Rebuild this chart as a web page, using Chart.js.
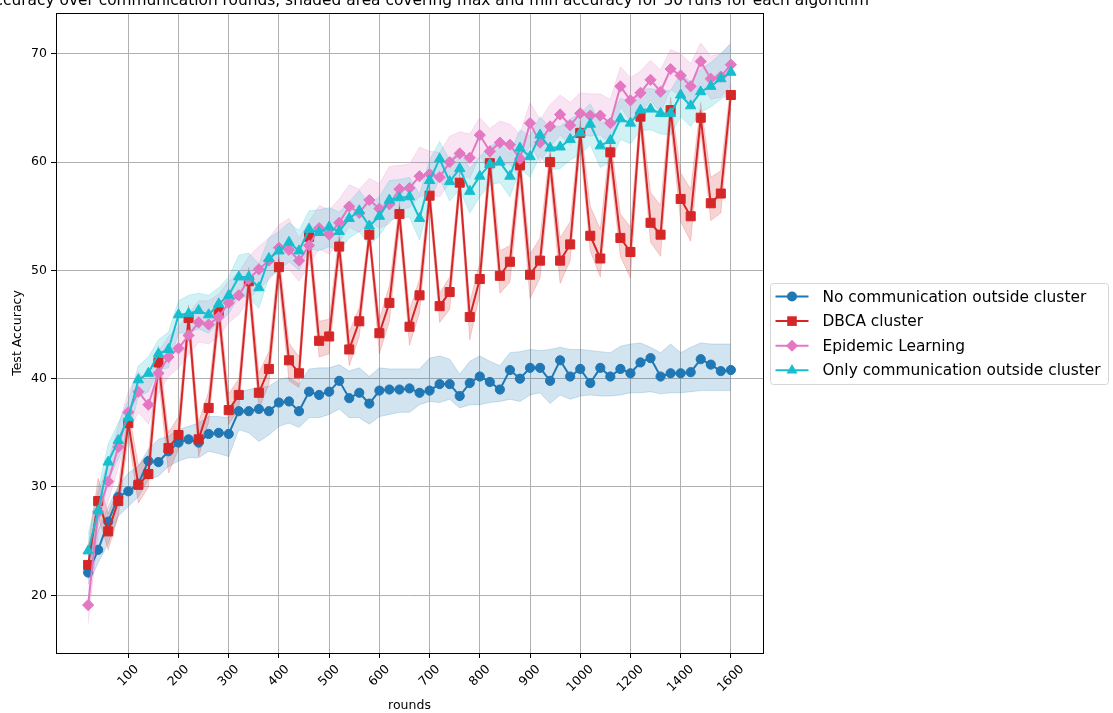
<!DOCTYPE html>
<html>
<head>
<meta charset="utf-8">
<script src="https://cdn.jsdelivr.net/npm/chart.js@4.4.1/dist/chart.umd.min.js"></script>
<style>
  html, body { margin: 0; padding: 0; background: #fff; }
  #chart { display: block; }
</style>
</head>
<body>
<canvas id="chart" width="1113" height="713"></canvas>
<script>
// communication rounds (x categories), step changes after 1000
const rounds = [20, 40, 60, 80, 100, 120, 140, 160, 180, 200, 220, 240, 260, 280, 300, 320, 340, 360, 380, 400,
  420, 440, 460, 480, 500, 520, 540, 560, 580, 600, 620, 640, 660, 680, 700, 720, 740, 760, 780, 800,
  820, 840, 860, 880, 900, 920, 940, 960, 980, 1000, 1040, 1080, 1120, 1160, 1200, 1240, 1280, 1320, 1360, 1400,
  1440, 1480, 1520, 1560, 1600];
const xTickRounds = [100, 200, 300, 400, 500, 600, 700, 800, 900, 1000, 1200, 1400, 1600];
const yTickValues = [20, 30, 40, 50, 60, 70];

// No communication outside cluster
const noCommMean = [22.1, 24.2, 26.8, 29.1, 29.6, 30.3, 32.4, 32.3, 33.3, 34.1, 34.4, 34.1, 34.9, 35.0, 34.9, 37.0, 37.0, 37.2, 37.0, 37.8,
  37.9, 37.0, 38.8, 38.5, 38.8, 39.8, 38.2, 38.7, 37.7, 38.9, 39.0, 39.0, 39.1, 38.7, 38.9, 39.5, 39.5, 38.4, 39.6, 40.2,
  39.7, 39.0, 40.8, 40.0, 41.0, 41.0, 39.8, 41.7, 40.2, 40.9, 39.6, 41.0, 40.2, 40.9, 40.5, 41.5, 41.9, 40.2, 40.5, 40.5,
  40.6, 41.8, 41.3, 40.7, 40.8];
const noCommMax = [23.6, 26.0, 28.2, 30.1, 31.3, 31.9, 33.5, 34.4, 34.7, 35.3, 35.6, 35.9, 36.5, 36.5, 36.4, 38.7, 39.0, 39.2, 39.3, 39.9,
  40.1, 39.5, 40.9, 41.0, 41.0, 41.3, 40.7, 41.0, 40.2, 41.0, 40.9, 40.9, 40.9, 40.9, 41.9, 42.1, 41.8, 40.4, 41.6, 42.1,
  41.6, 41.2, 42.4, 42.5, 42.7, 42.6, 42.7, 42.9, 42.7, 42.7, 42.6, 42.5, 42.4, 43.0, 43.2, 43.3, 42.9, 42.4, 43.2, 42.4,
  42.9, 43.3, 43.2, 43.2, 43.2];
const noCommMin = [21.0, 23.0, 24.8, 27.3, 28.2, 29.1, 30.7, 31.0, 31.9, 32.4, 32.7, 32.7, 33.3, 33.1, 32.8, 35.3, 35.0, 34.2, 34.8, 35.6,
  35.9, 35.5, 36.4, 36.4, 36.7, 37.2, 36.4, 36.4, 35.8, 36.5, 36.7, 36.9, 36.9, 37.6, 37.9, 37.8, 38.1, 37.3, 37.6, 37.6,
  37.8, 37.9, 38.1, 37.9, 38.5, 38.7, 37.7, 38.5, 38.1, 38.4, 38.5, 38.4, 38.4, 38.5, 38.7, 38.7, 38.8, 38.6, 38.7, 38.7,
  38.8, 38.9, 38.9, 38.9, 38.9];

// DBCA cluster
const dbcaMean = [22.8, 28.7, 25.9, 28.7, 35.9, 30.2, 31.2, 41.5, 33.6, 34.8, 45.6, 34.4, 37.3, 46.2, 37.1, 38.5, 49.0, 38.7, 40.9, 50.3,
  41.7, 40.5, 53.1, 43.5, 43.9, 52.2, 42.7, 45.3, 53.3, 44.2, 47.0, 55.2, 44.8, 47.7, 56.9, 46.7, 48.0, 58.1, 45.7, 49.2,
  59.9, 49.5, 50.8, 59.7, 49.6, 50.9, 60.0, 50.9, 52.4, 62.7, 53.2, 51.1, 60.9, 53.0, 51.7, 64.2, 54.4, 53.3, 64.8, 56.6,
  55.0, 64.1, 56.2, 57.1, 66.2];
const dbcaMax = [24.5, 30.8, 27.5, 30.0, 37.2, 32.0, 33.0, 43.0, 35.0, 36.5, 46.8, 36.0, 38.8, 47.5, 38.6, 40.0, 50.3, 40.5, 42.5, 51.6,
  43.3, 42.0, 54.3, 45.3, 45.5, 53.5, 44.3, 46.6, 54.2, 45.5, 48.6, 56.3, 46.3, 49.2, 58.0, 47.9, 49.4, 59.2, 47.0, 50.8,
  61.2, 51.8, 52.3, 61.0, 51.5, 53.0, 61.3, 53.0, 54.5, 63.8, 55.9, 53.8, 62.2, 55.2, 54.0, 65.3, 57.2, 56.0, 66.0, 59.0,
  57.5, 65.5, 58.6, 59.2, 67.3];
const dbcaMin = [21.5, 27.3, 24.2, 27.3, 34.7, 28.5, 30.0, 40.3, 31.3, 33.5, 44.5, 32.8, 36.0, 45.0, 35.8, 37.2, 47.8, 37.2, 39.5, 49.0,
  39.8, 39.2, 51.9, 42.0, 42.3, 51.0, 41.2, 43.9, 52.5, 42.3, 45.3, 54.0, 43.1, 46.1, 55.8, 45.2, 46.4, 57.0, 43.6, 47.8,
  58.6, 47.9, 48.9, 58.3, 47.4, 49.3, 58.7, 48.8, 50.9, 61.4, 51.8, 49.4, 59.6, 51.3, 49.3, 63.0, 52.6, 51.3, 63.5, 54.5,
  52.7, 62.8, 54.6, 55.3, 65.0];

// Epidemic Learning
const epiMean = [19.1, 27.7, 30.5, 33.7, 36.9, 38.8, 37.6, 40.5, 42.0, 42.8, 44.0, 45.2, 45.0, 45.7, 47.0, 47.7, 49.2, 50.1, 50.9, 52.1,
  51.9, 50.9, 52.3, 53.9, 53.3, 54.4, 55.9, 55.3, 56.5, 55.7, 56.1, 57.5, 57.6, 58.7, 58.9, 58.6, 60.0, 60.8, 60.4, 62.5,
  61.0, 61.8, 61.6, 60.3, 63.6, 61.8, 63.3, 64.4, 63.4, 64.5, 64.3, 64.3, 63.6, 67.0, 65.7, 66.4, 67.6, 66.5, 68.6, 68.0,
  67.0, 69.3, 67.7, 67.9, 69.0];
const epiMax = [22.8, 29.5, 32.4, 35.6, 38.8, 40.6, 39.7, 42.5, 43.9, 44.8, 46.0, 47.2, 47.2, 47.8, 49.0, 49.8, 51.3, 52.2, 53.0, 54.2,
  54.8, 53.0, 54.5, 56.0, 55.6, 56.6, 57.9, 57.5, 58.5, 58.0, 59.6, 59.7, 59.8, 61.4, 61.0, 60.9, 62.4, 62.8, 62.6, 64.1,
  63.1, 63.8, 63.5, 62.6, 65.5, 63.9, 65.3, 66.2, 65.5, 66.4, 66.3, 66.3, 65.8, 68.8, 67.8, 68.4, 69.4, 68.5, 70.4, 70.0,
  69.1, 71.0, 69.8, 70.0, 70.9];
const epiMin = [17.4, 25.8, 28.7, 31.8, 35.0, 36.9, 35.8, 38.6, 40.2, 41.0, 42.2, 43.4, 43.2, 43.9, 45.2, 45.9, 47.4, 48.3, 49.1, 50.2,
  50.1, 49.0, 50.5, 52.0, 51.5, 52.6, 54.0, 53.5, 54.6, 53.9, 54.3, 55.6, 55.8, 56.8, 57.0, 56.8, 58.1, 58.9, 58.5, 60.6,
  59.1, 59.9, 59.8, 58.5, 61.7, 60.0, 61.4, 62.5, 61.6, 62.6, 62.4, 62.5, 61.7, 65.1, 63.8, 64.5, 65.7, 64.6, 66.7, 66.1,
  65.1, 67.4, 65.8, 66.0, 67.1];

// Only communication outside cluster
const outsideMean = [24.1, 27.8, 32.3, 34.3, 36.4, 39.9, 40.5, 42.3, 42.7, 45.9, 46.0, 46.3, 45.9, 46.9, 47.7, 49.4, 49.4, 48.4, 51.1, 51.8,
  52.6, 51.8, 53.8, 53.5, 54.0, 53.6, 54.8, 55.5, 54.1, 55.0, 56.5, 56.7, 56.8, 54.8, 58.3, 60.3, 58.2, 59.4, 57.3, 58.7,
  59.8, 60.0, 58.7, 61.3, 60.5, 62.5, 61.3, 61.4, 62.1, 62.7, 63.5, 61.5, 62.0, 64.0, 63.6, 64.8, 64.9, 64.5, 64.5, 66.2,
  65.2, 66.5, 67.0, 67.7, 68.3];
const outsideMax = [25.6, 29.8, 34.0, 35.9, 38.0, 41.2, 42.0, 43.6, 44.3, 47.2, 47.7, 47.9, 47.7, 48.4, 49.4, 51.4, 51.6, 50.6, 53.0, 53.6,
  54.4, 53.7, 55.5, 55.6, 55.8, 55.4, 56.3, 57.4, 56.1, 56.8, 58.3, 58.4, 58.6, 57.0, 60.2, 61.9, 60.2, 61.1, 59.4, 60.5,
  61.5, 61.8, 60.8, 63.0, 62.4, 64.2, 63.2, 63.3, 64.0, 64.5, 65.4, 63.6, 64.0, 65.9, 65.6, 66.7, 66.8, 66.6, 66.6, 68.2,
  67.4, 68.6, 69.2, 70.0, 71.0];
const outsideMin = [22.8, 26.4, 30.6, 32.6, 34.8, 38.3, 38.8, 40.8, 41.0, 44.2, 44.3, 44.6, 44.2, 45.3, 46.0, 47.6, 47.5, 46.5, 49.4, 50.0,
  50.8, 50.0, 52.0, 51.8, 52.2, 51.8, 53.0, 53.6, 52.3, 53.2, 54.6, 54.9, 54.9, 52.8, 56.4, 58.5, 56.4, 57.5, 55.3, 56.8,
  57.9, 58.1, 56.8, 59.4, 58.6, 60.6, 59.3, 59.4, 60.2, 60.7, 61.6, 59.5, 60.0, 62.1, 61.7, 62.9, 63.0, 62.6, 62.5, 64.2,
  63.3, 64.6, 65.1, 65.8, 66.4];

const FONT = "'DejaVu Sans', 'Liberation Sans', sans-serif";
const series = [
  { label: 'No communication outside cluster', mean: noCommMean, lo: noCommMin, hi: noCommMax, rgb: [31, 119, 180], marker: 'circle', r: 4.6 },
  { label: 'DBCA cluster', mean: dbcaMean, lo: dbcaMin, hi: dbcaMax, rgb: [214, 39, 40], marker: 'rect', r: 6.4 },
  { label: 'Epidemic Learning', mean: epiMean, lo: epiMin, hi: epiMax, rgb: [227, 119, 194], marker: 'rectRot', r: 5.6 },
  { label: 'Only communication outside cluster', mean: outsideMean, lo: outsideMin, hi: outsideMax, rgb: [23, 190, 207], marker: 'triangle', r: 6.0 },
];

const rgba = (c, a) => `rgba(${c[0]}, ${c[1]}, ${c[2]}, ${a})`;
const toXY = arr => arr.map((v, i) => ({ x: i, y: v }));

const datasets = [];
series.forEach((s, k) => {
  datasets.push({
    label: s.label + ' min',
    data: toXY(s.lo),
    borderColor: rgba(s.rgb, 0.2),
    borderWidth: 1,
    pointRadius: 0,
    fill: false,
    order: 20 - k,
  });
  datasets.push({
    label: s.label + ' max',
    data: toXY(s.hi),
    borderColor: rgba(s.rgb, 0.2),
    backgroundColor: rgba(s.rgb, 0.2),
    borderWidth: 1,
    pointRadius: 0,
    fill: '-1',
    order: 20 - k,
  });
  datasets.push({
    label: s.label,
    data: toXY(s.mean),
    borderColor: rgba(s.rgb, 1),
    backgroundColor: rgba(s.rgb, 1),
    borderWidth: 2,
    pointStyle: s.marker,
    pointRadius: s.r,
    pointBorderWidth: 1,
    pointBackgroundColor: rgba(s.rgb, 1),
    pointBorderColor: rgba(s.rgb, 1),
    fill: false,
    order: 4 - k,
  });
});

function drawMarker(ctx, style, x, y, r) {
  ctx.beginPath();
  if (style === 'circle') {
    ctx.arc(x, y, r, 0, Math.PI * 2);
  } else if (style === 'rect') {
    const h = Math.SQRT1_2 * r;
    ctx.rect(x - h, y - h, 2 * h, 2 * h);
  } else if (style === 'rectRot') {
    ctx.moveTo(x - r, y); ctx.lineTo(x, y - r); ctx.lineTo(x + r, y); ctx.lineTo(x, y + r);
    ctx.closePath();
  } else {
    const a = 2 * Math.PI / 3;
    ctx.moveTo(x, y - r);
    ctx.lineTo(x + Math.sin(a) * r, y - Math.cos(a) * r);
    ctx.lineTo(x + Math.sin(2 * a) * r, y - Math.cos(2 * a) * r);
    ctx.closePath();
  }
  ctx.fill();
}

// spines on all four sides
const framePlugin = {
  id: 'frame',
  afterDatasetsDraw(chart) {
    const { ctx, chartArea: a } = chart;
    ctx.save();
    ctx.strokeStyle = '#000';
    ctx.lineWidth = 1;
    ctx.strokeRect(Math.round(a.left) + 0.5, Math.round(a.top) + 0.5,
      Math.round(a.right - a.left), Math.round(a.bottom - a.top));
    ctx.restore();
  }
};

// x tick labels rotated 45deg, centred on the tick like matplotlib
const xLabelPlugin = {
  id: 'xLabels',
  afterDraw(chart) {
    const { ctx } = chart;
    const xs = chart.scales.x;
    ctx.save();
    ctx.font = `12.5px ${FONT}`;
    ctx.fillStyle = '#000';
    ctx.textAlign = 'center';
    ctx.textBaseline = 'middle';
    xs.ticks.forEach(t => {
      const label = String(rounds[t.value]);
      const w = ctx.measureText(label).width;
      const h = 12;
      const half = (w + h) * Math.SQRT1_2 / 2;
      const px = xs.getPixelForValue(t.value);
      const py = xs.top + 10 + half;
      ctx.save();
      ctx.translate(px, py);
      ctx.rotate(-Math.PI / 4);
      ctx.fillText(label, 0, 0);
      ctx.restore();
    });
    ctx.restore();
  }
};

const titlePlugin = {
  id: 'topTitle',
  afterDraw(chart) {
    const { ctx, chartArea: a } = chart;
    ctx.save();
    ctx.font = `15.4px ${FONT}`;
    ctx.fillStyle = '#000';
    ctx.textAlign = 'center';
    ctx.textBaseline = 'alphabetic';
    ctx.fillText('Test accuracy over communication rounds, shaded area covering max and min accuracy for 30 runs for each algorithm',
      (a.left + a.right) / 2, 5);
    ctx.restore();
  }
};

const sideLegendPlugin = {
  id: 'sideLegend',
  afterDraw(chart) {
    const { ctx, chartArea: a } = chart;
    const w = 338, h = 101;
    const x0 = a.right + 7.5;
    const y0 = Math.round((a.top + a.bottom) / 2 - h / 2) + 0.5;
    ctx.save();
    ctx.beginPath();
    ctx.roundRect(x0, y0, w, h, 3);
    ctx.fillStyle = 'rgba(255,255,255,0.8)';
    ctx.fill();
    ctx.strokeStyle = '#d6d6d6';
    ctx.lineWidth = 1;
    ctx.stroke();
    ctx.font = `15.4px ${FONT}`;
    ctx.textBaseline = 'middle';
    ctx.textAlign = 'left';
    series.forEach((s, i) => {
      const y = y0 + 13 + i * 24.6;
      ctx.strokeStyle = rgba(s.rgb, 1);
      ctx.fillStyle = rgba(s.rgb, 1);
      ctx.lineWidth = 2;
      ctx.beginPath();
      ctx.moveTo(x0 + 5, y);
      ctx.lineTo(x0 + 38, y);
      ctx.stroke();
      drawMarker(ctx, s.marker, x0 + 21.5, y, s.r + 0.4);
      ctx.fillStyle = '#000';
      ctx.fillText(s.label, x0 + 52, y + 1);
    });
    ctx.restore();
  }
};

Chart.defaults.font.family = FONT;
Chart.defaults.color = '#000';

new Chart(document.getElementById('chart'), {
  type: 'line',
  data: { datasets },
  plugins: [framePlugin, xLabelPlugin, titlePlugin, sideLegendPlugin],
  options: {
    responsive: false,
    animation: false,
    devicePixelRatio: 1,
    layout: { padding: { top: 13, right: 350, left: 0, bottom: 0 } },
    elements: { line: { tension: 0 } },
    plugins: {
      legend: { display: false },
      tooltip: { enabled: false },
      title: { display: false },
    },
    scales: {
      x: {
        type: 'linear',
        min: -3.2,
        max: 67.2,
        afterBuildTicks: s => { s.ticks = xTickRounds.map(r => ({ value: rounds.indexOf(r) })); },
        afterFit: s => { s.height = 60; },
        ticks: { display: false },
        grid: { color: '#b0b0b0', lineWidth: 1, tickColor: '#000', tickLength: 5 },
        border: { display: false },
        title: { display: true, text: 'rounds', font: { size: 12.5 }, padding: { top: 0, bottom: 0 } },
      },
      y: {
        type: 'linear',
        min: 14.67,
        max: 73.77,
        afterBuildTicks: s => { s.ticks = yTickValues.map(v => ({ value: v })); },
        afterFit: s => { s.width = 56; },
        ticks: { font: { size: 12.5 }, padding: 4 },
        grid: { color: '#b0b0b0', lineWidth: 1, tickColor: '#000', tickLength: 5 },
        border: { display: false },
        title: { display: true, text: 'Test Accuracy', font: { size: 12.5 }, padding: { top: 10, bottom: 0 } },
      },
    },
  },
});
</script>
</body>
</html>
